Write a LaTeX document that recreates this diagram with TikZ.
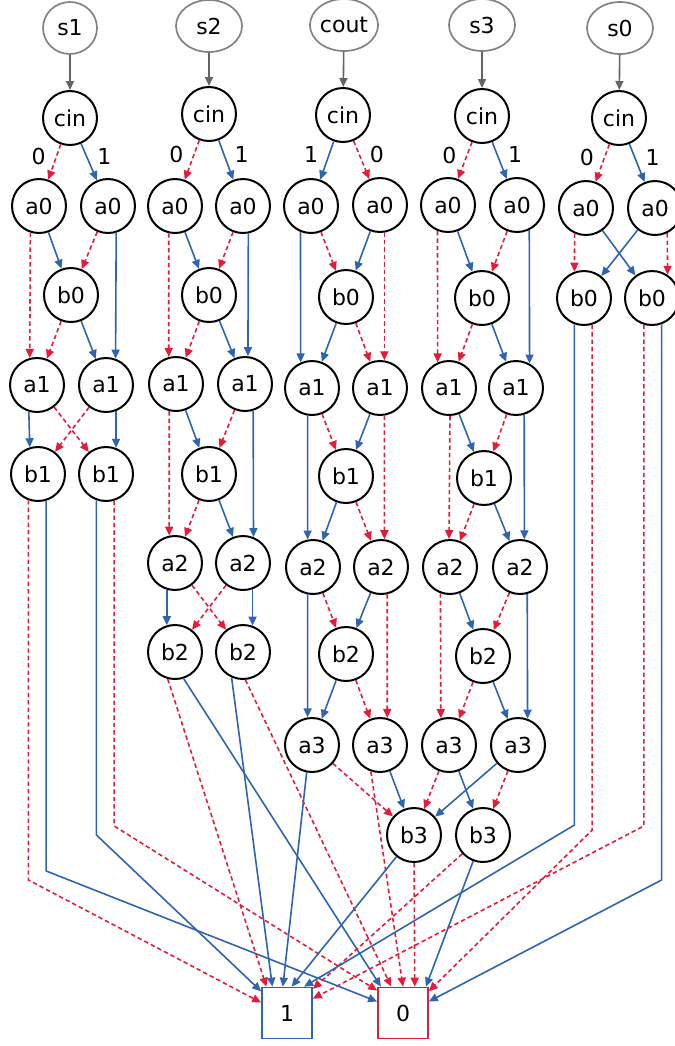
\documentclass[tikz,border=0pt]{standalone}
\usepackage{fontspec}
\setmainfont{DejaVu Sans}
\usetikzlibrary{arrows.meta}
\usetikzlibrary{shapes.geometric}
\definecolor{hiblue}{RGB}{46,100,176}
\definecolor{lored}{RGB}{228,28,60}
\definecolor{vargray}{RGB}{130,130,130}
\definecolor{arrgray}{RGB}{100,100,100}

\begin{document}
\begin{tikzpicture}[
        x=0.5pt, y=-0.5pt,
        font=\fontsize{11}{13}\selectfont,
        bdd node/.style={circle,draw=black,line width=1pt,minimum size=27pt,inner sep=0pt},
        var node/.style={ellipse,draw=vargray,line width=0.85pt,minimum width=33pt,minimum height=26pt,inner sep=0pt},
        term node/.style={rectangle,line width=0.85pt,minimum width=25pt,minimum height=25.5pt,inner sep=0pt},
        hi/.style={draw=hiblue,line width=0.8pt,-{Triangle[length=4.5pt,width=4pt]}},
        lo/.style={draw=lored,line width=0.8pt,dash pattern=on 2.2pt off 1.5pt,-{Triangle[length=4.5pt,width=4pt]}},
        root/.style={draw=arrgray,line width=0.8pt,-{Triangle[length=4.5pt,width=4pt]}},
        lbl/.style={inner sep=0pt,pos=0.35},
    ]
    \useasboundingbox (0,0) rectangle (675,1046);

    % column s1
    \node[var node,minimum width=27pt] (s-1) at (70,28) {s1};
    \node[bdd node] (cin-1) at (70,118) {cin};
    \node[bdd node] (a0l-1) at (39,206) {a0};
    \node[bdd node] (a0r-1) at (108,206) {a0};
    \node[bdd node] (b0-1) at (71,295) {b0};
    \node[bdd node] (a1l-1) at (37,385) {a1};
    \node[bdd node] (a1r-1) at (106,385) {a1};
    \node[bdd node] (b1l-1) at (38,474) {b1};
    \node[bdd node] (b1r-1) at (106,474) {b1};

    % column s2
    \node[var node] (s-2) at (209,26) {s2};
    \node[bdd node] (cin-2) at (209,114) {cin};
    \node[bdd node] (a0l-2) at (175,206) {a0};
    \node[bdd node] (a0r-2) at (243,206) {a0};
    \node[bdd node] (b0-2) at (209,295) {b0};
    \node[bdd node] (a1l-2) at (176,384) {a1};
    \node[bdd node] (a1r-2) at (245,384) {a1};
    \node[bdd node] (b1-2) at (209,474) {b1};
    \node[bdd node] (a2l-2) at (175,563) {a2};
    \node[bdd node] (a2r-2) at (243,563) {a2};
    \node[bdd node] (b2l-2) at (175,652) {b2};
    \node[bdd node] (b2r-2) at (243,652) {b2};

    % column cout
    \node[var node] (s-3) at (344,25) {cout};
    \node[bdd node] (cin-3) at (343,115) {cin};
    \node[bdd node] (a0l-3) at (311,206) {a0};
    \node[bdd node] (a0r-3) at (380,205) {a0};
    \node[bdd node] (b0-3) at (346,297) {b0};
    \node[bdd node] (a1l-3) at (312,388) {a1};
    \node[bdd node] (a1r-3) at (380,388) {a1};
    \node[bdd node] (b1-3) at (346,476) {b1};
    \node[bdd node] (a2l-3) at (313,567) {a2};
    \node[bdd node] (a2r-3) at (381,567) {a2};
    \node[bdd node] (b2-3) at (346,654) {b2};
    \node[bdd node] (a3l-3) at (312,745) {a3};
    \node[bdd node] (a3r-3) at (380,745) {a3};

    % column s3
    \node[var node] (s-4) at (482,25) {s3};
    \node[bdd node] (cin-4) at (482,116) {cin};
    \node[bdd node] (a0l-4) at (448,205) {a0};
    \node[bdd node] (a0r-4) at (517,205) {a0};
    \node[bdd node] (b0-4) at (482,298) {b0};
    \node[bdd node] (a1l-4) at (449,388) {a1};
    \node[bdd node] (a1r-4) at (516,388) {a1};
    \node[bdd node] (b1-4) at (484,478) {b1};
    \node[bdd node] (a2l-4) at (450,567) {a2};
    \node[bdd node] (a2r-4) at (520,567) {a2};
    \node[bdd node] (b2-4) at (483,656) {b2};
    \node[bdd node] (a3l-4) at (449,745) {a3};
    \node[bdd node] (a3r-4) at (518,745) {a3};

    % shared b3
    \node[bdd node] (b3l) at (414,835) {b3};
    \node[bdd node] (b3r) at (483,835) {b3};

    % column s0
    \node[var node] (s-5) at (620,28) {s0};
    \node[bdd node] (cin-5) at (619,118) {cin};
    \node[bdd node] (a0l-5) at (586,208) {a0};
    \node[bdd node] (a0r-5) at (655,208) {a0};
    \node[bdd node] (b0l-5) at (584,298) {b0};
    \node[bdd node] (b0r-5) at (652,298) {b0};

    % terminals
    \node[term node,draw=hiblue] (one) at (287,1013) {1};
    \node[term node,draw=lored] (zero) at (403,1013) {0};

    % roots
    \foreach \c in {1,...,5}
        \draw[root] (s-\c) -- (cin-\c);

    % s1
    \draw[lo] (cin-1) -- node[lbl,left=5pt] (l0-1) {0} (a0l-1);
    \draw[hi] (cin-1) -- node[lbl,right=5pt] (l1-1) {1} (a0r-1);
    \draw[lo] (a0l-1.252) -- (a1l-1.105);
    \draw[hi] (a0l-1) -- (b0-1);
    \draw[lo] (a0r-1) -- (b0-1);
    \draw[hi] (a0r-1.287) -- (a1r-1.70);
    \draw[lo] (b0-1) -- (a1l-1);
    \draw[hi] (b0-1) -- (a1r-1);
    \draw[hi] (a1l-1.253) -- (b1l-1.107);
    \draw[lo] (a1l-1) -- (b1r-1);
    \draw[lo] (a1r-1) -- (b1l-1);
    \draw[hi] (a1r-1.291) -- (b1r-1.69);
    \draw[lo] (b1l-1.250) -- (b1l-1.250 |- 0,880) -- (one.158);
    \draw[hi] (b1l-1.287) -- (b1l-1.287 |- 0,871) -- (zero.156);
    \draw[hi] (b1r-1.250) -- (b1r-1.250 |- 0,835) -- (one.140);
    \draw[lo] (b1r-1.287) -- (b1r-1.287 |- 0,826) -- (zero.139);

    % s2
    \draw[lo] (cin-2) -- node[lbl,left=5pt] (l0-2) {0} (a0l-2);
    \draw[hi] (cin-2) -- node[lbl,right=5pt] (l1-2) {1} (a0r-2);
    \draw[lo] (a0l-2.257) -- (a1l-2.105);
    \draw[hi] (a0l-2) -- (b0-2);
    \draw[lo] (a0r-2) -- (b0-2);
    \draw[hi] (a0r-2.281) -- (a1r-2.84);
    \draw[lo] (b0-2) -- (a1l-2);
    \draw[hi] (b0-2) -- (a1r-2);
    \draw[lo] (a1l-2.256) -- (a2l-2.102);
    \draw[hi] (a1l-2) -- (b1-2);
    \draw[lo] (a1r-2) -- (b1-2);
    \draw[hi] (a1r-2.287) -- (a2r-2.68);
    \draw[lo] (b1-2) -- (a2l-2);
    \draw[hi] (b1-2) -- (a2r-2);
    \draw[hi] (a2l-2.253) -- (b2l-2.107);
    \draw[lo] (a2l-2) -- (b2r-2);
    \draw[lo] (a2r-2) -- (b2l-2);
    \draw[hi] (a2r-2.290) -- (b2r-2.70);
    \draw[lo] (b2l-2.255) -- (one.128);
    \draw[hi] (b2l-2.288) -- (zero.130);
    \draw[hi] (b2r-2.246) -- (one.119);
    \draw[lo] (b2r-2.275) -- (zero.114);

    % cout
    \draw[hi] (cin-3) -- node[lbl,left=5pt] (l1-3) {1} (a0l-3);
    \draw[lo] (cin-3) -- node[lbl,right=5pt] (l0-3) {0} (a0r-3);
    \draw[hi] (a0l-3.248) -- (a1l-3.114);
    \draw[lo] (a0l-3) -- (b0-3);
    \draw[hi] (a0r-3) -- (b0-3);
    \draw[lo] (a0r-3.279) -- (a1r-3.81);
    \draw[hi] (b0-3) -- (a1l-3);
    \draw[lo] (b0-3) -- (a1r-3);
    \draw[hi] (a1l-3.261) -- (a2l-3.101);
    \draw[lo] (a1l-3) -- (b1-3);
    \draw[hi] (a1r-3) -- (b1-3);
    \draw[lo] (a1r-3.279) -- (a2r-3.83);
    \draw[hi] (b1-3) -- (a2l-3);
    \draw[lo] (b1-3) -- (a2r-3);
    \draw[hi] (a2l-3.259) -- (a3l-3.99);
    \draw[lo] (a2l-3) -- (b2-3);
    \draw[hi] (a2r-3) -- (b2-3);
    \draw[lo] (a2r-3.283) -- (a3r-3.75);
    \draw[hi] (b2-3) -- (a3l-3);
    \draw[lo] (b2-3) -- (a3r-3);
    \draw[hi] (a3l-3.259) -- (one.99);
    \draw[lo] (a3l-3) -- (b3l);
    \draw[hi] (a3r-3) -- (b3l);
    \draw[lo] (a3r-3.251) -- (zero.90);

    % s3
    \draw[lo] (cin-4) -- node[lbl,left=5pt] (l0-4) {0} (a0l-4);
    \draw[hi] (cin-4) -- node[lbl,right=5pt] (l1-4) {1} (a0r-4);
    \draw[lo] (a0l-4.248) -- (a1l-4.114);
    \draw[hi] (a0l-4) -- (b0-4);
    \draw[lo] (a0r-4) -- (b0-4);
    \draw[hi] (a0r-4.296) -- (a1r-4.61);
    \draw[lo] (b0-4) -- (a1l-4);
    \draw[hi] (b0-4) -- (a1r-4);
    \draw[lo] (a1l-4.272) -- (a2l-4.92);
    \draw[hi] (a1l-4) -- (b1-4);
    \draw[lo] (a1r-4) -- (b1-4);
    \draw[hi] (a1r-4.287) -- (a2r-4.81);
    \draw[lo] (b1-4) -- (a2l-4);
    \draw[hi] (b1-4) -- (a2r-4);
    \draw[lo] (a2l-4.250) -- (a3l-4.107);
    \draw[hi] (a2l-4) -- (b2-4);
    \draw[lo] (a2r-4) -- (b2-4);
    \draw[hi] (a2r-4.285) -- (a3r-4.70);
    \draw[lo] (b2-4) -- (a3l-4);
    \draw[hi] (b2-4) -- (a3r-4);
    \draw[lo] (a3l-4) -- (b3l);
    \draw[hi] (a3l-4) -- (b3r);
    \draw[hi] (a3r-4) -- (b3l);
    \draw[lo] (a3r-4) -- (b3r);

    % b3
    \draw[hi] (b3l) -- (one.80);
    \draw[lo] (b3l) -- (zero.66);
    \draw[hi] (b3r) -- (zero.49);
    \draw[lo] (b3r) -- (one.43);

    % s0
    \draw[lo] (cin-5) -- node[lbl,left=5pt] (l0-5) {0} (a0l-5);
    \draw[hi] (cin-5) -- node[lbl,right=5pt] (l1-5) {1} (a0r-5);
    \draw[lo] (a0l-5.246) -- (b0l-5.110);
    \draw[hi] (a0l-5) -- (b0r-5);
    \draw[hi] (a0r-5) -- (b0l-5);
    \draw[lo] (a0r-5.296) -- (b0r-5.56);
    \draw[hi] (b0l-5.250) -- (b0l-5.250 |- 0,825) -- (one.57);
    \draw[lo] (b0l-5.287) -- (b0l-5.287 |- 0,830) -- (zero.40);
    \draw[lo] (b0r-5.253) -- (b0r-5.253 |- 0,826) -- (one.29);
    \draw[hi] (b0r-5.290) -- (b0r-5.290 |- 0,880) -- (zero.24);
\end{tikzpicture}
\end{document}
